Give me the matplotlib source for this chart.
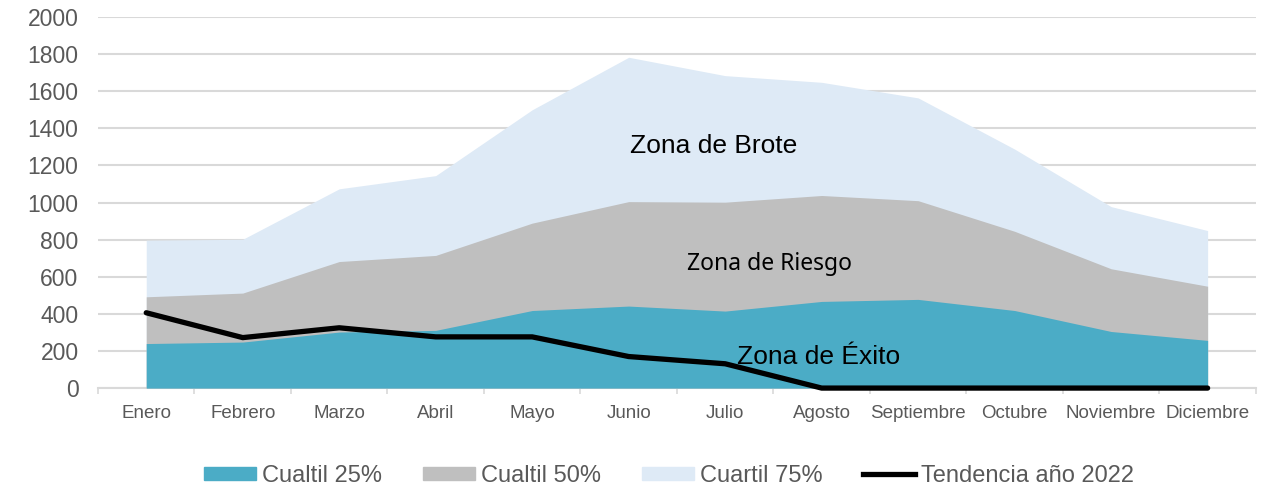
import matplotlib
matplotlib.use("Agg")
import matplotlib.pyplot as plt
from matplotlib.patches import Patch
from matplotlib.lines import Line2D
import numpy as np

plt.rcParams['font.family'] = ['Liberation Sans', 'DejaVu Sans']

months = ["Enero", "Febrero", "Marzo", "Abril", "Mayo", "Junio", "Julio",
          "Agosto", "Septiembre", "Octubre", "Noviembre", "Diciembre"]
q25 = [240, 248, 302, 311, 418, 442, 415, 467, 478, 418, 305, 257]
q50 = [492, 512, 682, 715, 889, 1005, 1002, 1038, 1010, 845, 643, 549]
q75 = [797, 802, 1074, 1145, 1500, 1783, 1684, 1648, 1564, 1288, 978, 849]
trend = [406, 272, 325, 276, 276, 170, 131, 0, 0, 0, 0, 0]
yticks = [0, 200, 400, 600, 800, 1000, 1200, 1400, 1600, 1800, 2000]
legend_labels = ["Cualtil 25%", "Cualtil 50%", "Cuartil 75%", "Tendencia año 2022"]

c25, c50, c75 = "#4BACC6", "#BFBFBF", "#DEEAF6"

fig = plt.figure(figsize=(12.71, 4.90), dpi=100)
ax = fig.add_axes([0.0771, 0.208, 0.9110, 0.7573])
x = np.arange(len(months))

ax.fill_between(x, 0, q75, color=c75, lw=0, zorder=2)
ax.fill_between(x, 0, q50, color=c50, lw=0, zorder=3)
ax.fill_between(x, 0, q25, color=c25, lw=0, zorder=4)
ax.plot(x, trend, color="black", lw=3.8, zorder=6, clip_on=False, solid_capstyle="round")

ax.set_xlim(-0.5, len(months) - 0.5)
ax.set_ylim(0, 2000)
ax.set_yticks(yticks)
ax.set_yticklabels([str(v) for v in yticks], fontsize=16.5, color="#595959")
ax.set_xticks(x)
ax.set_xticklabels(months, fontsize=13.5, color="#595959")
ax.tick_params(axis='x', length=0, pad=12)
ax.set_xticks(np.arange(-0.5, len(months), 1.0), minor=True)
ax.tick_params(axis='x', which='minor', length=4, color="#D9D9D9", width=1.2)
ax.tick_params(axis='y', length=0, pad=14)

ax.grid(axis='y', color="#D9D9D9", lw=1.5, zorder=1)
ax.set_axisbelow(True)
for s in ["top", "right", "left"]:
    ax.spines[s].set_visible(False)
ax.spines["bottom"].set_color("#D9D9D9")
ax.spines["bottom"].set_linewidth(1.5)

ax.text(5.88, 1305, "Zona de Brote", fontsize=19, ha="center", va="center", zorder=7)
ax.text(6.46, 670, "Zona de Riesgo", fontsize=16.5, ha="center", va="center", zorder=7,
        family=["Noto Sans", "DejaVu Sans"])
ax.text(6.97, 165, "Zona de Éxito", fontsize=19, ha="center", va="center", zorder=7)

handles = [Patch(color=c25), Patch(color=c50), Patch(color=c75),
           Line2D([0], [0], color="black", lw=3.8)]
fig.legend(handles, legend_labels, loc="center", bbox_to_anchor=(0.5264, 0.0286), ncol=4,
           frameon=False, fontsize=17, handlelength=2.2, handleheight=0.5,
           handletextpad=0.25, columnspacing=1.74, labelcolor="#595959")

fig.savefig("out.png", dpi=100)
